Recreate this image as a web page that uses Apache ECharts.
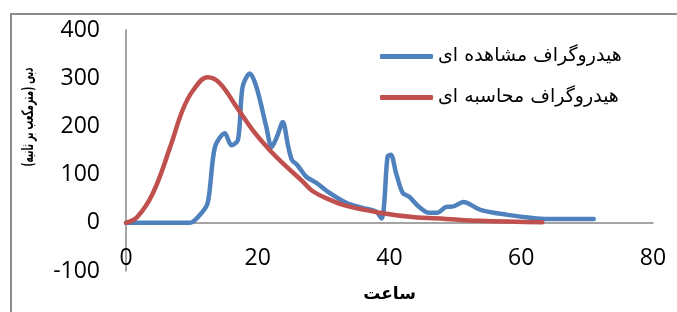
<!DOCTYPE html>
<html>
<head>
<meta charset="utf-8">
<script src="https://cdn.jsdelivr.net/npm/echarts@6/dist/echarts.min.js"></script>
<style>
  html, body { margin: 0; padding: 0; background: #fff; }
  #frame { position: absolute; left: 10px; top: 13px; width: 700px; height: 330px;
           border-left: 2px solid #8c8c8c; border-top: 2px solid #8c8c8c; }
  #chart { position: absolute; left: 0; top: 0; width: 677px; height: 312px; }
</style>
</head>
<body>
<div id="frame"></div>
<div id="chart"></div>
<script>
// هیدروگراف مشاهده ای (observed)
var observedHours = [0, 9.7, 11.2, 12.4, 13.5, 15, 16, 17, 17.7, 18.8, 19.8, 21.3, 22.1, 22.9, 23.8, 24.6, 25.2, 26, 27.4, 28.9, 30.9, 33.5, 35.9, 38, 38.8, 39.2, 39.7, 40.2, 41, 42, 43, 44.5, 46, 47.3, 48.6, 49.7, 51.2, 53.8, 57.7, 61.7, 64, 71];
var observedFlow  = [0, 0, 16, 41, 157, 186, 161, 172, 282, 310, 282, 199, 157, 178, 209, 160, 130, 120, 95, 83, 62, 41, 31, 23, 9, 41, 137, 141, 103, 62, 54, 33, 21, 21, 33, 34, 43, 27, 17, 10, 8, 8];
// هیدروگراف محاسبه ای (computed)
var computedHours = [0, 1.7, 4.1, 6.7, 8.6, 10.2, 12.4, 14.2, 16.8, 19.2, 21.8, 24.4, 26.8, 28.3, 30.9, 33.5, 38.5, 43.5, 48.6, 53.6, 63.2];
var computedFlow  = [0, 12, 62, 157, 234, 275, 302, 290, 240, 193, 151, 116, 86, 66, 48, 35, 21, 12, 8, 4, 1];

var xTicks = [0, 20, 40, 60, 80];
var yTicks = [-100, 0, 100, 200, 300, 400];

var RLM = '\u200F';
var nameObserved = RLM + 'هیدروگراف مشاهده ای' + RLM;
var nameComputed = RLM + 'هیدروگراف محاسبه ای' + RLM;
var yTitle = RLM + 'دبی (مترمکعب بر ثانیه)' + RLM;

function pairs(xs, ys) {
    return xs.map(function(x, i) { return [x, ys[i]]; });
}

var myChart = echarts.init(document.getElementById('chart'), null, { renderer: 'canvas' });

var option = {
    backgroundColor: 'transparent',
    animation: false,
    grid: { left: 126, right: 24, top: 30, bottom: 41, outerBoundsMode: 'none', containLabel: false },
    // y axis title, squeezed so it fits like the original
    graphic: [{
        type: 'text',
        x: 29,
        y: 117,
        rotation: Math.PI / 2,
        scaleX: 0.54,
        style: {
            text: yTitle,
            fontFamily: 'DejaVu Sans',
            fontSize: 16,
            fontWeight: 'bold',
            fill: '#000',
            align: 'center',
            verticalAlign: 'middle'
        }
    }],
    legend: {
        orient: 'vertical',
        left: 380,
        top: 47,
        padding: 0,
        itemGap: 22,
        itemWidth: 53,
        itemHeight: 5,
        icon: 'roundRect',
        textStyle: { fontFamily: 'DejaVu Sans', fontSize: 19, color: '#000' },
        data: [nameObserved, nameComputed]
    },
    xAxis: {
        type: 'value',
        min: xTicks[0],
        max: xTicks[xTicks.length - 1],
        interval: 20,
        name: RLM + 'ساعت' + RLM,
        nameLocation: 'middle',
        nameGap: 15,
        nameTextStyle: { fontFamily: 'DejaVu Sans', fontSize: 17, fontWeight: 'bold', color: '#000' },
        axisLine: { onZero: true, lineStyle: { color: '#868686', width: 1.5 } },
        axisTick: { show: false },
        splitLine: { show: false },
        axisLabel: { margin: -24, fontFamily: 'Open Sans', fontSize: 23, color: '#000' }
    },
    yAxis: {
        type: 'value',
        min: yTicks[0],
        max: yTicks[yTicks.length - 1],
        interval: 100,
        axisLine: { show: true, onZero: false, lineStyle: { color: '#868686', width: 1.5 } },
        axisTick: { show: false },
        splitLine: { show: false },
        axisLabel: { margin: 26, fontFamily: 'Open Sans', fontSize: 23, color: '#000' }
    },
    series: [
        {
            name: nameObserved,
            type: 'line',
            data: pairs(observedHours, observedFlow),
            smooth: 0.3,
            showSymbol: false,
            symbol: 'none',
            color: '#4F81BD',
            lineStyle: { width: 4.5, color: '#4F81BD', cap: 'round', join: 'round' }
        },
        {
            name: nameComputed,
            type: 'line',
            data: pairs(computedHours, computedFlow),
            smooth: 0.4,
            showSymbol: false,
            symbol: 'none',
            color: '#C0504D',
            lineStyle: { width: 4.5, color: '#C0504D', cap: 'round', join: 'round' }
        }
    ]
};

myChart.setOption(option);
window.addEventListener('resize', function() {
    myChart.resize();
});
</script>
</body>
</html>
